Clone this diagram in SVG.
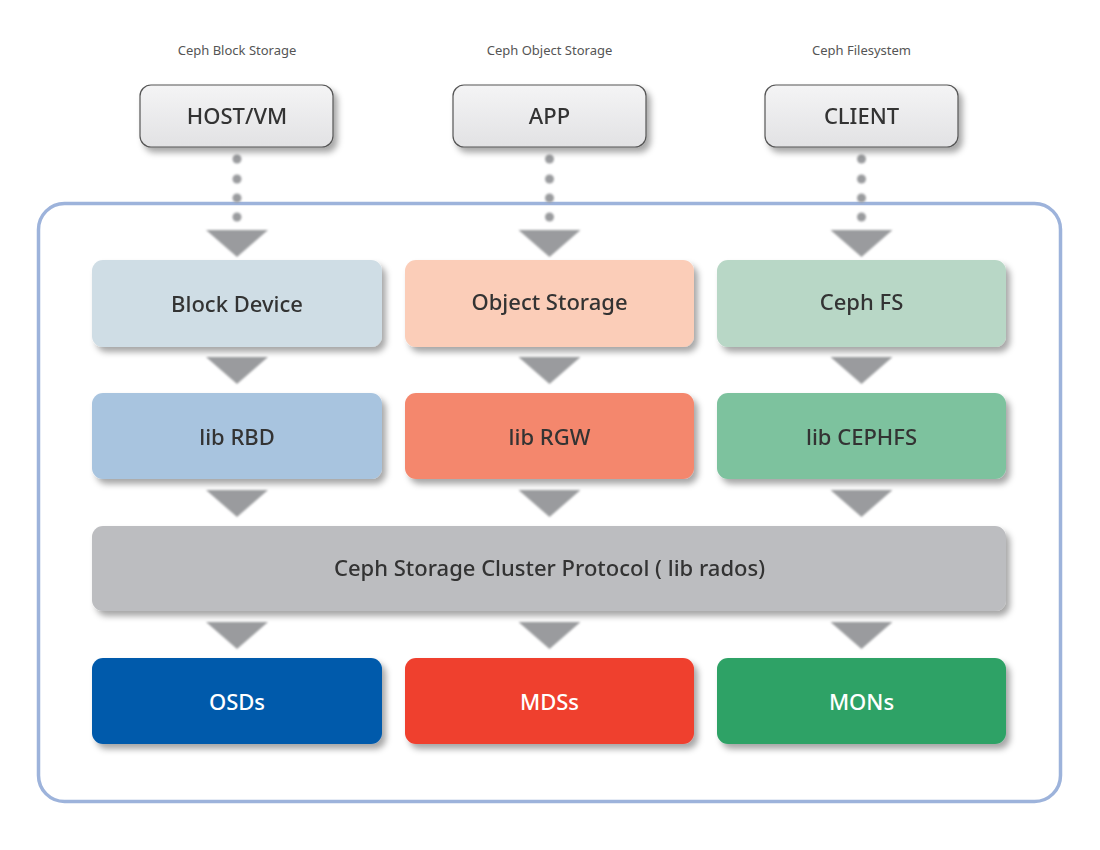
<svg xmlns="http://www.w3.org/2000/svg" width="1100" height="850" viewBox="0 0 1100 850">
<defs>
<filter id="sh" x="-10%" y="-20%" width="130%" height="160%">
<feDropShadow dx="4" dy="5" stdDeviation="3" flood-color="#000" flood-opacity="0.35"/>
</filter>
<filter id="tsh" x="-20%" y="-20%" width="140%" height="160%">
<feGaussianBlur stdDeviation="0.8"/>
</filter>
<linearGradient id="topg" x1="0" y1="0" x2="0" y2="1">
<stop offset="0" stop-color="#f4f4f5"/>
<stop offset="1" stop-color="#e2e2e4"/>
</linearGradient>
<polygon id="tri" points="-31,0 31,0 0,27" fill="#9a9b9e"/>
</defs>
<style>
.lbl{font-family:"Noto Sans","Open Sans",sans-serif;font-size:13px;fill:#555;text-anchor:middle}
.t{font-family:"Noto Sans","Open Sans",sans-serif;font-size:22px;font-weight:500;fill:#333;text-anchor:middle;dominant-baseline:central}
.w{fill:#fff}
.top{fill:url(#topg);stroke:#555;stroke-width:1.2}
.box{filter:url(#sh)}
.dot{fill:#9a9b9e}
</style>
<rect width="1100" height="850" fill="#fff"/>
<rect id="frame" x="38.5" y="203.5" width="1022" height="598" rx="26" fill="none" stroke="#9db3db" stroke-width="3.5"/>
<text class="lbl" x="237" y="55">Ceph Block Storage</text>
<text class="lbl" x="549.5" y="55">Ceph Object Storage</text>
<text class="lbl" x="861.5" y="55">Ceph Filesystem</text>
<g id="connectors">
<g filter="url(#tsh)">
<circle class="dot" cx="237" cy="159" r="4.5"/><circle class="dot" cx="237" cy="179" r="4.5"/><circle class="dot" cx="237" cy="198" r="4.5"/><circle class="dot" cx="237" cy="217" r="4.5"/>
<circle class="dot" cx="549.5" cy="159" r="4.5"/><circle class="dot" cx="549.5" cy="179" r="4.5"/><circle class="dot" cx="549.5" cy="198" r="4.5"/><circle class="dot" cx="549.5" cy="217" r="4.5"/>
<circle class="dot" cx="861.5" cy="159" r="4.5"/><circle class="dot" cx="861.5" cy="179" r="4.5"/><circle class="dot" cx="861.5" cy="198" r="4.5"/><circle class="dot" cx="861.5" cy="217" r="4.5"/>
<use href="#tri" x="237" y="230"/><use href="#tri" x="549.5" y="230"/><use href="#tri" x="861.5" y="230"/>
<use href="#tri" x="237" y="357"/><use href="#tri" x="549.5" y="357"/><use href="#tri" x="861.5" y="357"/>
<use href="#tri" x="237" y="490"/><use href="#tri" x="549.5" y="490"/><use href="#tri" x="861.5" y="490"/>
<use href="#tri" x="237" y="622"/><use href="#tri" x="549.5" y="622"/><use href="#tri" x="861.5" y="622"/>
</g>
</g>
<g id="host"><rect class="top box" x="140" y="85" width="193" height="62" rx="11"/><text class="t" x="237" y="115">HOST/VM</text></g>
<g id="app"><rect class="top box" x="453" y="85" width="193" height="62" rx="11"/><text class="t" x="549.5" y="115">APP</text></g>
<g id="client"><rect class="top box" x="765" y="85" width="193" height="62" rx="11"/><text class="t" x="861.5" y="115">CLIENT</text></g>
<g id="blockdev"><rect class="box" x="92" y="260" width="290" height="87" rx="11" fill="#cfdde5"/><text class="t" x="237" y="303">Block Device</text></g>
<g id="objstore"><rect class="box" x="405" y="260" width="289" height="87" rx="11" fill="#fbcdb8"/><text class="t" x="549.5" y="301">Object Storage</text></g>
<g id="cephfs"><rect class="box" x="717" y="260" width="289" height="87" rx="11" fill="#b8d7c6"/><text class="t" x="861.5" y="301">Ceph FS</text></g>
<g id="librbd"><rect class="box" x="92" y="393" width="290" height="86" rx="11" fill="#a8c4df"/><text class="t" x="237" y="436">lib RBD</text></g>
<g id="librgw"><rect class="box" x="405" y="393" width="289" height="86" rx="11" fill="#f4876d"/><text class="t" x="549.5" y="436">lib RGW</text></g>
<g id="libcephfs"><rect class="box" x="717" y="393" width="289" height="86" rx="11" fill="#7dc29e"/><text class="t" x="861.5" y="436">lib CEPHFS</text></g>
<g id="cluster"><rect class="box" x="92" y="526" width="914" height="85" rx="11" fill="#bcbdc0"/><text class="t" x="549.5" y="567">Ceph Storage Cluster Protocol ( lib rados)</text></g>
<g id="osds"><rect class="box" x="92" y="658" width="290" height="86" rx="11" fill="#005aab"/><text class="t w" x="237" y="701">OSDs</text></g>
<g id="mdss"><rect class="box" x="405" y="658" width="289" height="86" rx="11" fill="#ef3f2f"/><text class="t w" x="549.5" y="701">MDSs</text></g>
<g id="mons"><rect class="box" x="717" y="658" width="289" height="86" rx="11" fill="#2fa266"/><text class="t w" x="861.5" y="701">MONs</text></g>
</svg>
